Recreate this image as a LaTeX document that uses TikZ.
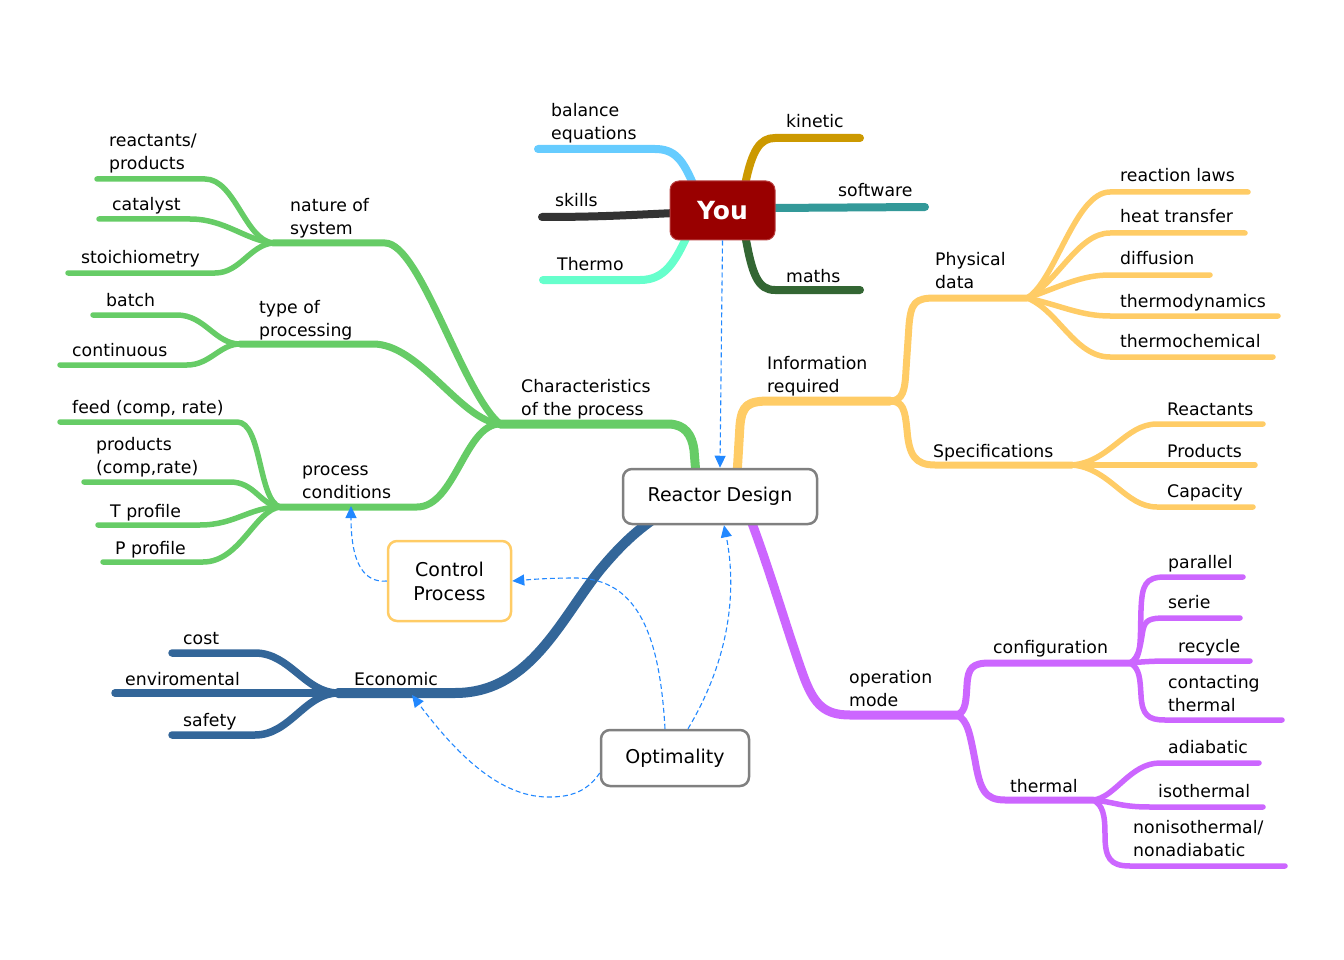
\documentclass[tikz,border=0pt]{standalone}
\usepackage{fontspec}
\setmainfont{DejaVu Sans}
\usetikzlibrary{arrows.meta}
\definecolor{cgreen}{HTML}{66CC66}
\definecolor{cblue}{HTML}{336699}
\definecolor{cyellow}{HTML}{FFCC66}
\definecolor{cpurple}{HTML}{CC66FF}
\definecolor{clightblue}{HTML}{66CCFF}
\definecolor{cgold}{HTML}{CC9900}
\definecolor{cdark}{HTML}{333333}
\definecolor{cteal}{HTML}{339999}
\definecolor{caqua}{HTML}{66FFCC}
\definecolor{cdkgreen}{HTML}{336633}
\definecolor{youred}{HTML}{990000}
\definecolor{youborder}{HTML}{B84040}
\definecolor{boxgray}{HTML}{808080}
\definecolor{dashblue}{HTML}{2288FF}
\newcommand\lblfont{\fontsize{17.3}{23}\selectfont}
\newcommand\boxfont{\fontsize{19}{24}\selectfont}
\tikzset{
 br/.style={line cap=round, line join=round},
 lf/.style={br, line width=5.5pt},
 sb/.style={br, line width=7pt},
 mn/.style={br, line width=9pt},
 lbl/.style={anchor=base west, inner sep=0pt, align=left, font=\lblfont},
 rbox/.style={draw=boxgray, line width=2.5pt, rounded corners=9pt, fill=white, font=\boxfont, align=center, inner sep=0pt},
 dasharrow/.style={draw=dashblue, line width=1.1pt, dash pattern=on 5pt off 3pt, -{Triangle[length=12pt,width=11pt]}}
}
\begin{document}
\begin{tikzpicture}[x=1pt,y=-1pt]
\useasboundingbox (0,0) rectangle (1344,960);

% ---------- hubs ----------
\coordinate (hubG) at (500,424);
\coordinate (hubNat) at (273,243);
\coordinate (hubType) at (240,344);
\coordinate (hubProc) at (280,507);
\coordinate (hubB) at (338,693);
\coordinate (hubY) at (890,401);
\coordinate (hubPhys) at (1027,298);
\coordinate (hubSpec) at (1072,465);
\coordinate (hubP) at (957,715);
\coordinate (hubConf) at (1130,663);
\coordinate (hubTh) at (1093,800);

% ---------- You branches ----------
\draw[br, line width=8pt, clightblue] (538,149) -- (655,149) .. controls (675,149) and (683,160) .. (694,186);
\draw[br, line width=8pt, cgold] (860,138) -- (775,138) .. controls (760,138) and (752,150) .. (745,185);
\draw[br, line width=8pt, cdark] (542,217) .. controls (600,217) and (630,215) .. (675,213);
\draw[br, line width=8pt, cteal] (770,208) -- (925,207);
\draw[br, line width=8pt, caqua] (543,280) -- (640,280) .. controls (665,280) and (675,262) .. (688,234);
\draw[br, line width=8pt, cdkgreen] (860,290) -- (775,290) .. controls (758,290) and (752,275) .. (745,234);

% ---------- green ----------
\draw[mn, cgreen] (hubG) -- (668,424) .. controls (685,424) and (692,435) .. (694,450) -- (696,475);
\draw[sb, cgreen] (hubNat) -- (385,243) .. controls (420,243) and (462,392) .. (hubG);
\draw[sb, cgreen] (hubType) -- (373,344) .. controls (420,344) and (460,420) .. (hubG);
\draw[sb, cgreen] (hubProc) -- (417,507) .. controls (455,507) and (465,424) .. (hubG);
\draw[lf, cgreen] (97,179) -- (205,179) .. controls (235,179) and (245,240) .. (hubNat);
\draw[lf, cgreen] (99,219) -- (190,219) .. controls (225,219) and (245,240) .. (hubNat);
\draw[lf, cgreen] (68,273) -- (215,273) .. controls (240,273) and (250,245) .. (hubNat);
\draw[lf, cgreen] (93,315) -- (177,315) .. controls (205,315) and (215,344) .. (hubType);
\draw[lf, cgreen] (60,365) -- (187,365) .. controls (210,365) and (220,344) .. (hubType);
\draw[lf, cgreen] (60,422) -- (237,422) .. controls (262,422) and (258,500) .. (hubProc);
\draw[lf, cgreen] (84,482) -- (230,482) .. controls (255,482) and (260,505) .. (hubProc);
\draw[lf, cgreen] (98,525) -- (200,525) .. controls (235,525) and (250,507) .. (hubProc);
\draw[lf, cgreen] (103,562) -- (203,562) .. controls (240,562) and (255,510) .. (hubProc);

% ---------- blue ----------
\draw[br, line width=10pt, cblue] (hubB) -- (455,693) .. controls (530,693) and (560,620) .. (600,570) .. controls (620,546) and (635,532) .. (655,518);
\draw[br, line width=7.5pt, cblue] (172,653) -- (255,653) .. controls (290,653) and (305,693) .. (hubB);
\draw[br, line width=7.5pt, cblue] (115,693) -- (hubB);
\draw[br, line width=7.5pt, cblue] (172,735) -- (255,735) .. controls (290,735) and (305,693) .. (hubB);

% ---------- yellow ----------
\draw[mn, cyellow] (737,475) -- (740,425) .. controls (742,405) and (748,401) .. (770,401) -- (hubY);
\draw[sb, cyellow] (hubY) .. controls (903,401) and (905,390) .. (906,370) -- (909,325) .. controls (911,303) and (915,298) .. (935,298) -- (hubPhys);
\draw[sb, cyellow] (hubY) .. controls (903,401) and (905,410) .. (907,430) .. controls (909,455) and (915,465) .. (935,465) -- (hubSpec);
\draw[lf, cyellow] (hubPhys) .. controls (1055,282) and (1075,192) .. (1110,192) -- (1248,192);
\draw[lf, cyellow] (hubPhys) .. controls (1058,282) and (1078,233) .. (1110,233) -- (1245,233);
\draw[lf, cyellow] (hubPhys) .. controls (1060,287) and (1080,275) .. (1110,275) -- (1210,275);
\draw[lf, cyellow] (hubPhys) .. controls (1060,305) and (1080,316) .. (1110,316) -- (1278,316);
\draw[lf, cyellow] (hubPhys) .. controls (1058,310) and (1075,357) .. (1110,357) -- (1273,357);
\draw[lf, cyellow] (hubSpec) .. controls (1110,462) and (1125,424) .. (1157,424) -- (1263,424);
\draw[lf, cyellow] (hubSpec) -- (1255,465);
\draw[lf, cyellow] (hubSpec) .. controls (1110,468) and (1125,507) .. (1157,507) -- (1253,507);

% ---------- purple ----------
\draw[mn, cpurple] (750,518) .. controls (770,570) and (790,640) .. (805,680) .. controls (815,705) and (825,715) .. (850,715) -- (hubP);
\draw[sb, cpurple] (hubP) .. controls (966,712) and (966,700) .. (967,685) .. controls (968,668) and (972,663) .. (990,663) -- (hubConf);
\draw[sb, cpurple] (hubP) .. controls (968,720) and (970,735) .. (975,760) .. controls (980,790) and (985,800) .. (1005,800) -- (hubTh);
\draw[lf, cpurple] (hubConf) .. controls (1142,660) and (1140,640) .. (1141,610) .. controls (1142,585) and (1145,577) .. (1165,577) -- (1243,577);
\draw[lf, cpurple] (hubConf) .. controls (1140,658) and (1141,640) .. (1143,630) .. controls (1145,620) and (1150,618) .. (1165,618) -- (1240,618);
\draw[lf, cpurple] (hubConf) .. controls (1150,661) and (1160,661) .. (1175,661) -- (1250,661);
\draw[lf, cpurple] (hubConf) .. controls (1140,668) and (1140,680) .. (1141,695) .. controls (1142,715) and (1148,720) .. (1165,720) -- (1282,720);
\draw[lf, cpurple] (hubTh) .. controls (1115,798) and (1130,763) .. (1160,763) -- (1259,763);
\draw[lf, cpurple] (hubTh) .. controls (1115,802) and (1120,807) .. (1150,807) -- (1263,807);
\draw[lf, cpurple] (hubTh) .. controls (1103,805) and (1105,815) .. (1105,835) .. controls (1105,858) and (1110,866) .. (1130,866) -- (1285,866);

% ---------- boxes ----------
\node[draw=youborder, line width=1pt, fill=youred, rounded corners=9pt, minimum width=105pt, minimum height=59pt, inner sep=0pt, text=white, font=\fontsize{25}{30}\selectfont\bfseries] (you) at (722.5,210.5) {You};
\node[rbox, minimum width=194pt, minimum height=55pt] (rd) at (720,496.5) {Reactor Design};
\node[rbox, draw=cyellow, minimum width=123pt, minimum height=80pt] (cp) at (449.5,581) {Control\\Process};
\node[rbox, minimum width=148pt, minimum height=56pt] (opt) at (675,758) {Optimality};

% ---------- labels (base = last line) ----------
\node[lbl] (tBal) at (551,140) {balance\\equations};
\node[lbl] (tKin) at (786,128) {kinetic};
\node[lbl] (tSk) at (555,207) {skills};
\node[lbl] (tSw) at (838,197) {software};
\node[lbl] (tTh) at (557,270) {Thermo};
\node[lbl] (tMa) at (786,282) {maths};
\node[lbl] (tRP) at (109,170) {reactants/\\products};
\node[lbl] (tCat) at (112,211) {catalyst};
\node[lbl] (tSto) at (81,263) {stoichiometry};
\node[lbl] (tNat) at (290,234) {nature of\\system};
\node[lbl] (tBat) at (106,306) {batch};
\node[lbl] (tCon) at (72,356) {continuous};
\node[lbl] (tTyp) at (259,336) {type of\\processing};
\node[lbl] (tFeed) at (72,413) {feed (comp, rate)};
\node[lbl] (tProd) at (96,473) {products\\(comp,rate)};
\node[lbl] (tT) at (110,517) {T profile};
\node[lbl] (tP) at (115,554) {P profile};
\node[lbl] (tPC) at (302,498) {process\\conditions};
\node[lbl] (tChar) at (521,415) {Characteristics\\of the process};
\node[lbl] (tInfo) at (767,392) {Information\\required};
\node[lbl] (tPhys) at (935,288) {Physical\\data};
\node[lbl] (tRL) at (1120,182) {reaction laws};
\node[lbl] (tHT) at (1120,223) {heat transfer};
\node[lbl] (tDif) at (1120,265) {diffusion};
\node[lbl] (tTD) at (1120,307) {thermodynamics};
\node[lbl] (tTC) at (1120,347) {thermochemical};
\node[lbl] (tSpec) at (933,457) {Specifications};
\node[lbl] (tRe) at (1167,415) {Reactants};
\node[lbl] (tPr) at (1167,457) {Products};
\node[lbl] (tCap) at (1167,497) {Capacity};
\node[lbl] (tOM) at (849,706) {operation\\mode};
\node[lbl] (tConf) at (993,653) {configuration};
\node[lbl] (tPar) at (1168,568) {parallel};
\node[lbl] (tSer) at (1168,608) {serie};
\node[lbl] (tRec) at (1178,652) {recycle};
\node[lbl] (tCT) at (1168,711) {contacting\\thermal};
\node[lbl] (tThm) at (1010,792) {thermal};
\node[lbl] (tAd) at (1168,753) {adiabatic};
\node[lbl] (tIso) at (1158,797) {isothermal};
\node[lbl] (tNon) at (1133,856) {nonisothermal/\\nonadiabatic};
\node[lbl] (tCost) at (183,644) {cost};
\node[lbl] (tEnv) at (125,685) {enviromental};
\node[lbl] (tSaf) at (183,726) {safety};
\node[lbl] (tEco) at (354,685) {Economic};

% ---------- dashed arrows ----------
\coordinate (pcA) at (351,506);
\coordinate (ecoA) at (412,695);
\draw[dasharrow] (you.south) -- (rd.north);
\draw[dasharrow] (cp.west) .. controls (365,583) and (351,565) .. (pcA);
\draw[dasharrow] ([xshift=-10pt]opt.north) .. controls (660,640) and (640,578) .. (575,578) .. controls (545,578) and (525,580) .. (cp.east);
\draw[dasharrow] ([xshift=13pt]opt.north) .. controls (735,650) and (735,580) .. ([xshift=4pt]rd.south);
\draw[dasharrow] ([yshift=-15pt]opt.west) .. controls (585,795) and (565,797) .. (548,797) .. controls (495,797) and (450,745) .. (ecoA);
\end{tikzpicture}
\end{document}
